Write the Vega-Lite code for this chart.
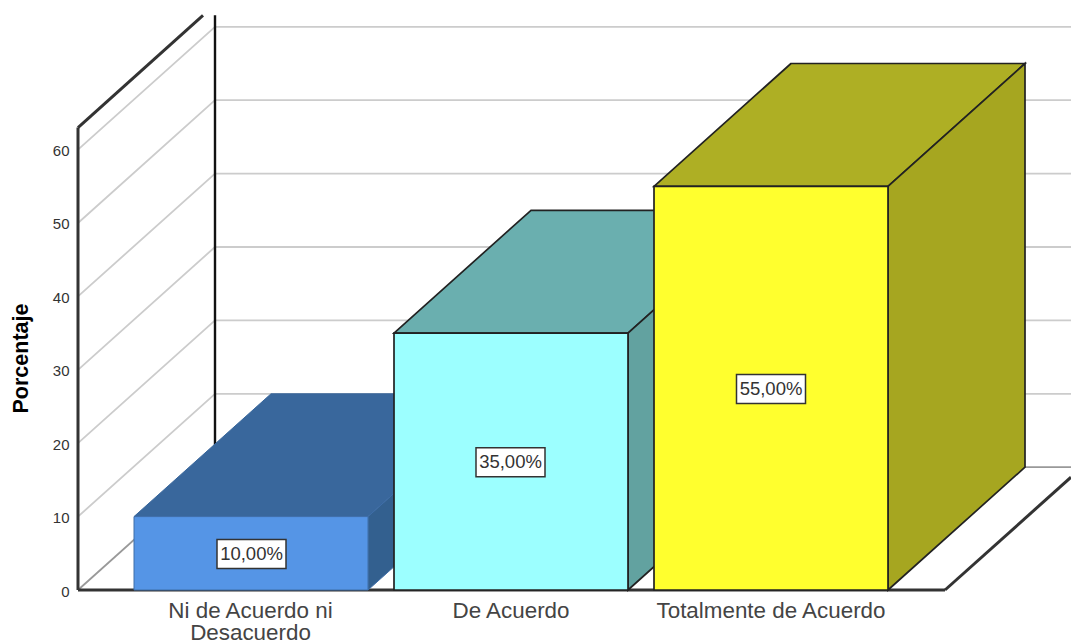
{
"$schema":"https://vega.github.io/schema/vega-lite/v6.json",
"width":1071,"height":641,"padding":0,"autosize":{"type":"none"},"background":"white",
"config":{"view":{"stroke":null}},
"datasets":{
"grid":[
{"seg":"g10","x":78,"y":10},{"seg":"g10","x":215,"y":26.73},{"seg":"g10","x":1071,"y":26.73},
{"seg":"g20","x":78,"y":20},{"seg":"g20","x":215,"y":36.73},{"seg":"g20","x":1071,"y":36.73},
{"seg":"g30","x":78,"y":30},{"seg":"g30","x":215,"y":46.73},{"seg":"g30","x":1071,"y":46.73},
{"seg":"g40","x":78,"y":40},{"seg":"g40","x":215,"y":56.73},{"seg":"g40","x":1071,"y":56.73},
{"seg":"g50","x":78,"y":50},{"seg":"g50","x":215,"y":66.73},{"seg":"g50","x":1071,"y":66.73},
{"seg":"g60","x":78,"y":60},{"seg":"g60","x":215,"y":76.73},{"seg":"g60","x":1071,"y":76.73}
],
"frame":[
{"seg":"backfloor","kind":"floor","x":215,"y":16.73},{"seg":"backfloor","kind":"floor","x":1071,"y":16.73},
{"seg":"sidefloor","kind":"floor","x":78,"y":0},{"seg":"sidefloor","kind":"floor","x":215,"y":16.73},
{"seg":"backwall","kind":"wall","x":215,"y":16.73},{"seg":"backwall","kind":"wall","x":215,"y":78.3},
{"seg":"leftwall","kind":"edge","x":78,"y":0},{"seg":"leftwall","kind":"edge","x":78,"y":63},
{"seg":"leftwalltop","kind":"edge","x":78,"y":63},{"seg":"leftwalltop","kind":"edge","x":203,"y":78.3},
{"seg":"front","kind":"edge","x":78,"y":0},{"seg":"front","kind":"edge","x":945,"y":0},
{"seg":"right","kind":"edge","x":945,"y":0},{"seg":"right","kind":"edge","x":1071,"y":15.37}
],
"tops":[
{"part":"ni_top","x":134,"x2":368,"y":10},{"part":"ni_top","x":271,"x2":505,"y":26.73},
{"part":"de_top","x":394,"x2":628,"y":35},{"part":"de_top","x":531,"x2":765,"y":51.73},
{"part":"to_top","x":654,"x2":888,"y":55},{"part":"to_top","x":791,"x2":1025,"y":71.73}
],
"faces":[
{"part":"ni_side","x":368,"y":0,"y2":10},{"part":"ni_side","x":505,"y":16.73,"y2":26.73},
{"part":"ni_front","x":134,"y":0,"y2":10},{"part":"ni_front","x":368,"y":0,"y2":10},
{"part":"de_side","x":628,"y":0,"y2":35},{"part":"de_side","x":765,"y":16.73,"y2":51.73},
{"part":"de_front","x":394,"y":0,"y2":35},{"part":"de_front","x":628,"y":0,"y2":35},
{"part":"to_side","x":888,"y":0,"y2":55},{"part":"to_side","x":1025,"y":16.73,"y2":71.73},
{"part":"to_front","x":654,"y":0,"y2":55},{"part":"to_front","x":888,"y":0,"y2":55}
],
"labels":[
{"label":"10,00%","x":251.5,"y":4.9},
{"label":"35,00%","x":510.5,"y":17.4},
{"label":"55,00%","x":771,"y":27.4}
]
},
"encoding":{
"x":{"field":"x","type":"quantitative","scale":{"domain":[0,1071],"nice":false,"zero":false},
"axis":{"orient":"bottom","offset":-51,"values":[250,510.5,770.5],"grid":false,"domain":false,"ticks":false,"title":null,"labelPadding":9,"labelFont":"Liberation Sans","labelFontSize":22.4,"labelColor":"#444","labelLimit":400,"labelOverlap":false,"labelBound":false,"labelFlush":false,"labelBaseline":"top","labelLineHeight":22,
"labelExpr":"datum.value==250?['Ni de Acuerdo ni','Desacuerdo']:datum.value==510.5?'De Acuerdo':'Totalmente de Acuerdo'"}},
"y":{"field":"y","type":"quantitative","scale":{"domain":[-6.948,80.381],"nice":false,"zero":false},
"axis":{"orient":"left","offset":-78,"values":[0,10,20,30,40,50,60],"grid":false,"domain":false,"ticks":false,"labelPadding":9,"labelOffset":1,"labelFont":"Liberation Sans","labelFontSize":15,"labelColor":"#333","labelOverlap":false,"labelBound":false,
"title":"Porcentaje","titleFont":"Liberation Sans","titleFontSize":21.5,"titleFontWeight":"bold","titleColor":"#000","titleX":-57,"titleY":358,"titleAngle":-90,"titleAlign":"center","titleBaseline":"middle","titleLimit":300}}
},
"layer":[
{"data":{"name":"grid"},"mark":{"type":"line","color":"#cccccc","strokeWidth":1.8},"encoding":{"detail":{"field":"seg"}}},
{"data":{"name":"frame"},"mark":{"type":"line"},"encoding":{"detail":{"field":"seg"},
"color":{"field":"kind","type":"nominal","legend":null,"scale":{"domain":["floor","wall","edge"],"range":["#999999","#111111","#333333"]}},
"strokeWidth":{"field":"kind","type":"nominal","legend":null,"scale":{"domain":["floor","wall","edge"],"range":[1.8,3,1.7]}}}},
{"data":{"name":"tops"},"transform":[{"filter":"datum.part=='ni_top'"}],"mark":{"type":"area","orient":"horizontal","stroke":"#39679C","strokeWidth":1},"encoding":{"x2":{"field":"x2"},"detail":{"field":"part"},"fill":{"field":"part","type":"nominal","legend":null,"scale":{"domain":["ni_top","ni_side","ni_front","de_top","de_side","de_front","to_top","to_side","to_front"],"range":["#39679C","#33608F","#5595E6","#6AAFAF","#62A2A0","#9CFFFF","#AEAF24","#A6A620","#FFFF2E"]}}}},
{"data":{"name":"faces"},"transform":[{"filter":"datum.part=='ni_side'||datum.part=='ni_front'"}],"mark":{"type":"area","orient":"vertical","stroke":"#3F6EA8","strokeWidth":1},"encoding":{"y2":{"field":"y2"},"detail":{"field":"part"},"fill":{"field":"part","type":"nominal","legend":null,"scale":{"domain":["ni_top","ni_side","ni_front","de_top","de_side","de_front","to_top","to_side","to_front"],"range":["#39679C","#33608F","#5595E6","#6AAFAF","#62A2A0","#9CFFFF","#AEAF24","#A6A620","#FFFF2E"]}}}},
{"data":{"name":"tops"},"transform":[{"filter":"datum.part=='de_top'"}],"mark":{"type":"area","orient":"horizontal","stroke":"#222222","strokeWidth":1.7},"encoding":{"x2":{"field":"x2"},"detail":{"field":"part"},"fill":{"field":"part","type":"nominal","legend":null,"scale":{"domain":["ni_top","ni_side","ni_front","de_top","de_side","de_front","to_top","to_side","to_front"],"range":["#39679C","#33608F","#5595E6","#6AAFAF","#62A2A0","#9CFFFF","#AEAF24","#A6A620","#FFFF2E"]}}}},
{"data":{"name":"faces"},"transform":[{"filter":"datum.part=='de_side'||datum.part=='de_front'"}],"mark":{"type":"area","orient":"vertical","stroke":"#222222","strokeWidth":1.7},"encoding":{"y2":{"field":"y2"},"detail":{"field":"part"},"fill":{"field":"part","type":"nominal","legend":null,"scale":{"domain":["ni_top","ni_side","ni_front","de_top","de_side","de_front","to_top","to_side","to_front"],"range":["#39679C","#33608F","#5595E6","#6AAFAF","#62A2A0","#9CFFFF","#AEAF24","#A6A620","#FFFF2E"]}}}},
{"data":{"name":"tops"},"transform":[{"filter":"datum.part=='to_top'"}],"mark":{"type":"area","orient":"horizontal","stroke":"#222222","strokeWidth":1.7},"encoding":{"x2":{"field":"x2"},"detail":{"field":"part"},"fill":{"field":"part","type":"nominal","legend":null,"scale":{"domain":["ni_top","ni_side","ni_front","de_top","de_side","de_front","to_top","to_side","to_front"],"range":["#39679C","#33608F","#5595E6","#6AAFAF","#62A2A0","#9CFFFF","#AEAF24","#A6A620","#FFFF2E"]}}}},
{"data":{"name":"faces"},"transform":[{"filter":"datum.part=='to_side'||datum.part=='to_front'"}],"mark":{"type":"area","orient":"vertical","stroke":"#222222","strokeWidth":1.7},"encoding":{"y2":{"field":"y2"},"detail":{"field":"part"},"fill":{"field":"part","type":"nominal","legend":null,"scale":{"domain":["ni_top","ni_side","ni_front","de_top","de_side","de_front","to_top","to_side","to_front"],"range":["#39679C","#33608F","#5595E6","#6AAFAF","#62A2A0","#9CFFFF","#AEAF24","#A6A620","#FFFF2E"]}}}},
{"data":{"name":"labels"},"mark":{"type":"rect","width":69,"height":29,"fill":"white","stroke":"#333333","strokeWidth":1.5}},
{"data":{"name":"labels"},"mark":{"type":"text","font":"Liberation Sans","fontSize":18.5,"color":"#333","align":"center","baseline":"middle"},"encoding":{"text":{"field":"label"}}}
]
}
